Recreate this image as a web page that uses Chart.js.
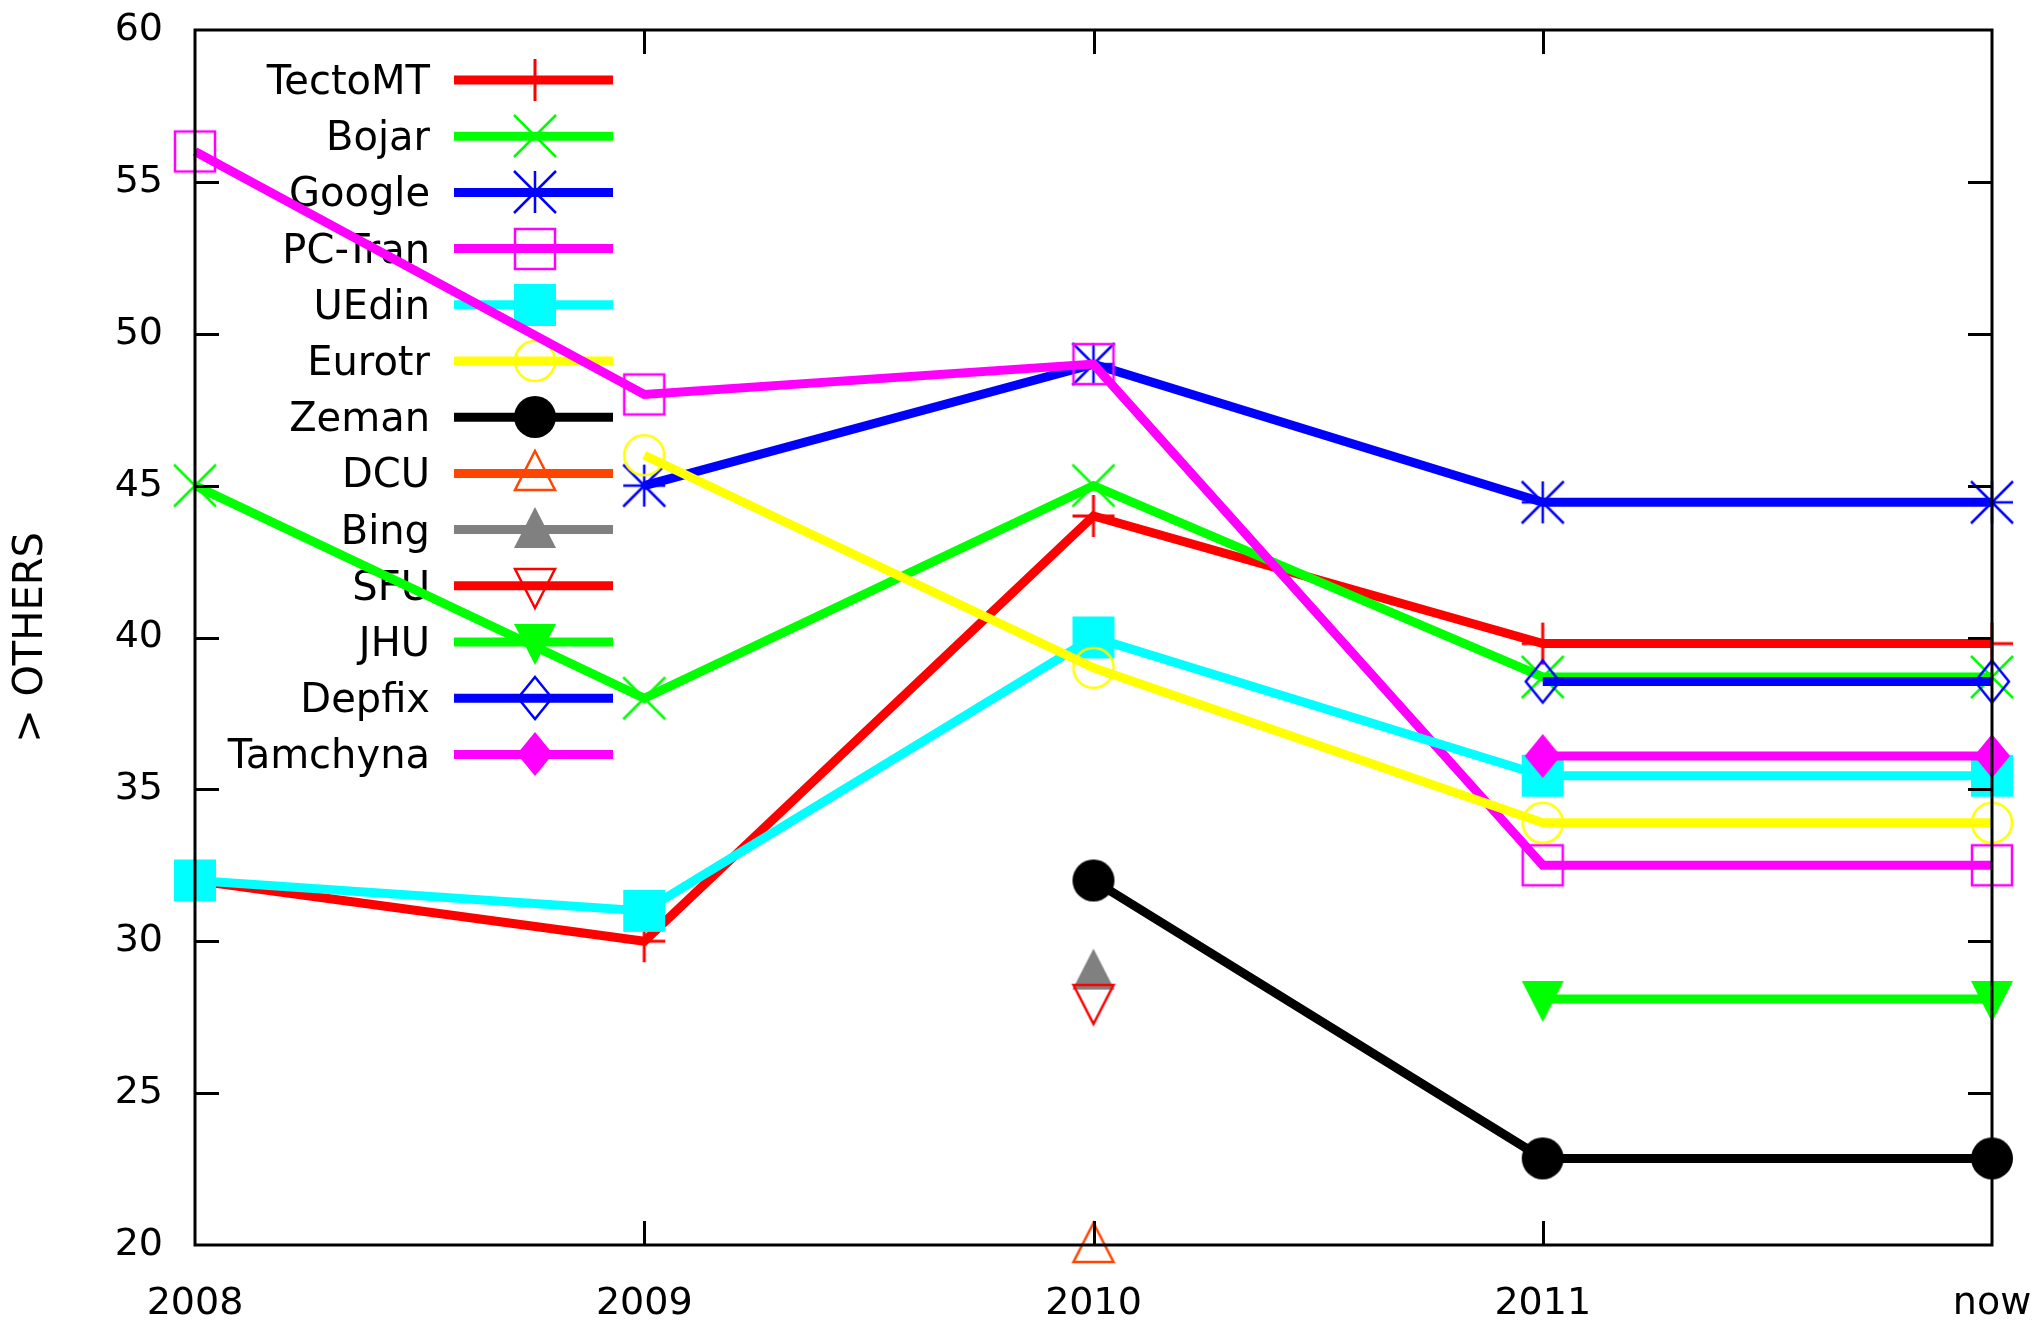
<!DOCTYPE html>
<html>
<head>
<meta charset="utf-8">
<title>&gt; OTHERS</title>
<script src="https://cdn.jsdelivr.net/npm/chart.js@4.4.0/dist/chart.umd.min.js"></script>
<style>
  html, body { margin: 0; padding: 0; background: #fff; }
  #wrap { width: 2039px; height: 1320px; position: relative; }
</style>
</head>
<body>
<div id="wrap"><canvas id="chart"></canvas></div>
<script>
// categories and values
var years = ['2008', '2009', '2010', '2011', 'now'];
var yMin = 20, yMax = 60, yStep = 5;

var names = ['TectoMT', 'Bojar', 'Google', 'PC-Tran', 'UEdin', 'Eurotr', 'Zeman',
             'DCU', 'Bing', 'SFU', 'JHU', 'Depfix', 'Tamchyna'];

var tectoMT  = [32, 30, 44, 39.8, 39.8];
var bojar    = [45, 38, 45, 38.7, 38.7];
var google   = [null, 45, 49, 44.45, 44.45];
var pcTran   = [56, 48, 49, 32.5, 32.5];
var uedin    = [32, 31, 40, 35.45, 35.45];
var eurotr   = [null, 46, 39, 33.9, 33.9];
var zeman    = [null, null, 32, 22.85, 22.85];
var dcu      = [null, null, 20, null, null];
var bing     = [null, null, 29, null, null];
var sfu      = [null, null, 28, null, null];
var jhu      = [null, null, null, 28.1, 28.1];
var depfix   = [null, null, null, 38.55, 38.55];
var tamchyna = [null, null, null, 36.1, 36.1];

var values = [tectoMT, bojar, google, pcTran, uedin, eurotr, zeman, dcu, bing, sfu, jhu, depfix, tamchyna];

// look of each series (gnuplot style)
var colors = ['#ff0000', '#00ff00', '#0000ff', '#ff00ff', '#00ffff', '#ffff00', '#000000',
              '#ff4500', '#808080', '#ff0000', '#00ff00', '#0000ff', '#ff00ff'];
var kinds = ['plus', 'cross', 'star', 'openSquare', 'square', 'openCircle', 'circle',
             'openTriUp', 'triUp', 'openTriDown', 'triDown', 'openDiamond', 'diamond'];

function marker(kind, color){
    var c = document.createElement('canvas');
    c.width = 52; c.height = 52;
    var g = c.getContext('2d');
    g.translate(26, 26);
    g.strokeStyle = color;
    g.fillStyle = color;
    g.lineWidth = 2.5;
    g.beginPath();
    switch (kind){
        case 'plus':
            g.lineWidth = 3;
            g.moveTo(-21, 0); g.lineTo(21, 0); g.moveTo(0, -21); g.lineTo(0, 21);
            g.stroke(); break;
        case 'cross':
            g.moveTo(-21, -21); g.lineTo(21, 21); g.moveTo(21, -21); g.lineTo(-21, 21);
            g.stroke(); break;
        case 'star':
            g.moveTo(-21, -21); g.lineTo(21, 21); g.moveTo(21, -21); g.lineTo(-21, 21);
            g.moveTo(-21, 0); g.lineTo(21, 0); g.moveTo(0, -21); g.lineTo(0, 21);
            g.stroke(); break;
        case 'openSquare':
            g.strokeRect(-20, -20, 40, 40); break;
        case 'square':
            g.fillRect(-21, -21, 42, 42); break;
        case 'openCircle':
            g.arc(0, 0, 20, 0, Math.PI * 2); g.stroke(); break;
        case 'circle':
            g.arc(0, 0, 21, 0, Math.PI * 2); g.fill(); break;
        case 'openTriUp':
            g.moveTo(0, -22); g.lineTo(20, 17); g.lineTo(-20, 17); g.closePath(); g.stroke(); break;
        case 'triUp':
            g.moveTo(0, -23); g.lineTo(21, 18); g.lineTo(-21, 18); g.closePath(); g.fill(); break;
        case 'openTriDown':
            g.moveTo(0, 22); g.lineTo(20, -17); g.lineTo(-20, -17); g.closePath(); g.stroke(); break;
        case 'triDown':
            g.moveTo(0, 23); g.lineTo(21, -18); g.lineTo(-21, -18); g.closePath(); g.fill(); break;
        case 'openDiamond':
            g.moveTo(0, -21); g.lineTo(17, 0); g.lineTo(0, 21); g.lineTo(-17, 0); g.closePath(); g.stroke(); break;
        case 'diamond':
            g.moveTo(0, -22); g.lineTo(18, 0); g.lineTo(0, 22); g.lineTo(-18, 0); g.closePath(); g.fill(); break;
    }
    return c;
}

var markers = kinds.map(function(k, i){ return marker(k, colors[i]); });

var datasets = names.map(function(name, i){
    return {
        label: name,
        data: values[i],
        borderColor: colors[i],
        backgroundColor: colors[i],
        borderWidth: 9,
        pointStyle: markers[i],
        pointRadius: 21,
        tension: 0,
        clip: false,
        order: -i
    };
});

// gnuplot-like key: text right aligned, then line sample with its marker
var keyPlugin = {
    id: 'gpKey',
    beforeDatasetsDraw: function(chart){
        var ctx = chart.ctx;
        ctx.save();
        ctx.font = '40px "DejaVu Sans"';
        ctx.textAlign = 'right';
        ctx.textBaseline = 'alphabetic';
        ctx.fillStyle = '#000';
        names.forEach(function(name, i){
            var y = 80 + i * 56.2;
            ctx.fillText(name, 430, y + 14);
            ctx.strokeStyle = colors[i];
            ctx.lineWidth = 9;
            ctx.beginPath();
            ctx.moveTo(454, y);
            ctx.lineTo(613, y);
            ctx.stroke();
            var m = markers[i];
            ctx.drawImage(m, 535 - m.width / 2, Math.round(y) - m.height / 2);
        });
        ctx.restore();
    }
};

// frame with inward ticks on all four sides
var framePlugin = {
    id: 'gpFrame',
    afterDatasetsDraw: function(chart){
        var a = chart.chartArea, ctx = chart.ctx;
        var xs = chart.scales.x, ys = chart.scales.y;
        var t = 24;
        ctx.save();
        ctx.strokeStyle = '#000';
        ctx.lineWidth = 3;
        ctx.beginPath();
        for (var v = yMin + yStep; v < yMax; v += yStep){
            var py = Math.round(ys.getPixelForValue(v)) + 0.5;
            ctx.moveTo(a.left, py); ctx.lineTo(a.left + t, py);
            ctx.moveTo(a.right, py); ctx.lineTo(a.right - t, py);
        }
        for (var k = 1; k < years.length - 1; k++){
            var px = Math.round(xs.getPixelForValue(k)) + 0.5;
            ctx.moveTo(px, a.bottom); ctx.lineTo(px, a.bottom - t);
            ctx.moveTo(px, a.top); ctx.lineTo(px, a.top + t);
        }
        ctx.stroke();
        ctx.strokeRect(a.left, a.top, a.right - a.left, a.bottom - a.top);
        ctx.restore();
    }
};

new Chart(document.getElementById('chart'), {
    type: 'line',
    data: { labels: years, datasets: datasets },
    options: {
        responsive: true,
        maintainAspectRatio: false,
        animation: false,
        layout: { autoPadding: false, padding: { left: 0, top: 30, right: 47, bottom: 0 } },
        plugins: { legend: { display: false }, tooltip: { enabled: false } },
        scales: {
            x: {
                type: 'category',
                offset: false,
                grid: { display: false, drawTicks: true, tickLength: 36 },
                border: { display: false },
                ticks: {
                    color: '#000',
                    padding: 0,
                    maxRotation: 0,
                    autoSkip: false,
                    font: { family: 'DejaVu Sans', size: 38 }
                },
                afterFit: function(s){ s.height = 75; }
            },
            y: {
                min: yMin,
                max: yMax,
                grid: { display: false, drawTicks: true, tickLength: 32 },
                border: { display: false },
                ticks: {
                    stepSize: yStep,
                    color: '#000',
                    padding: 0,
                    font: { family: 'DejaVu Sans', size: 38 }
                },
                title: {
                    display: true,
                    text: '> OTHERS',
                    color: '#000',
                    padding: { top: 8, bottom: 0 },
                    font: { family: 'DejaVu Sans', size: 40 }
                },
                afterFit: function(s){ s.width = 195; }
            }
        }
    },
    plugins: [keyPlugin, framePlugin]
});
</script>
</body>
</html>
